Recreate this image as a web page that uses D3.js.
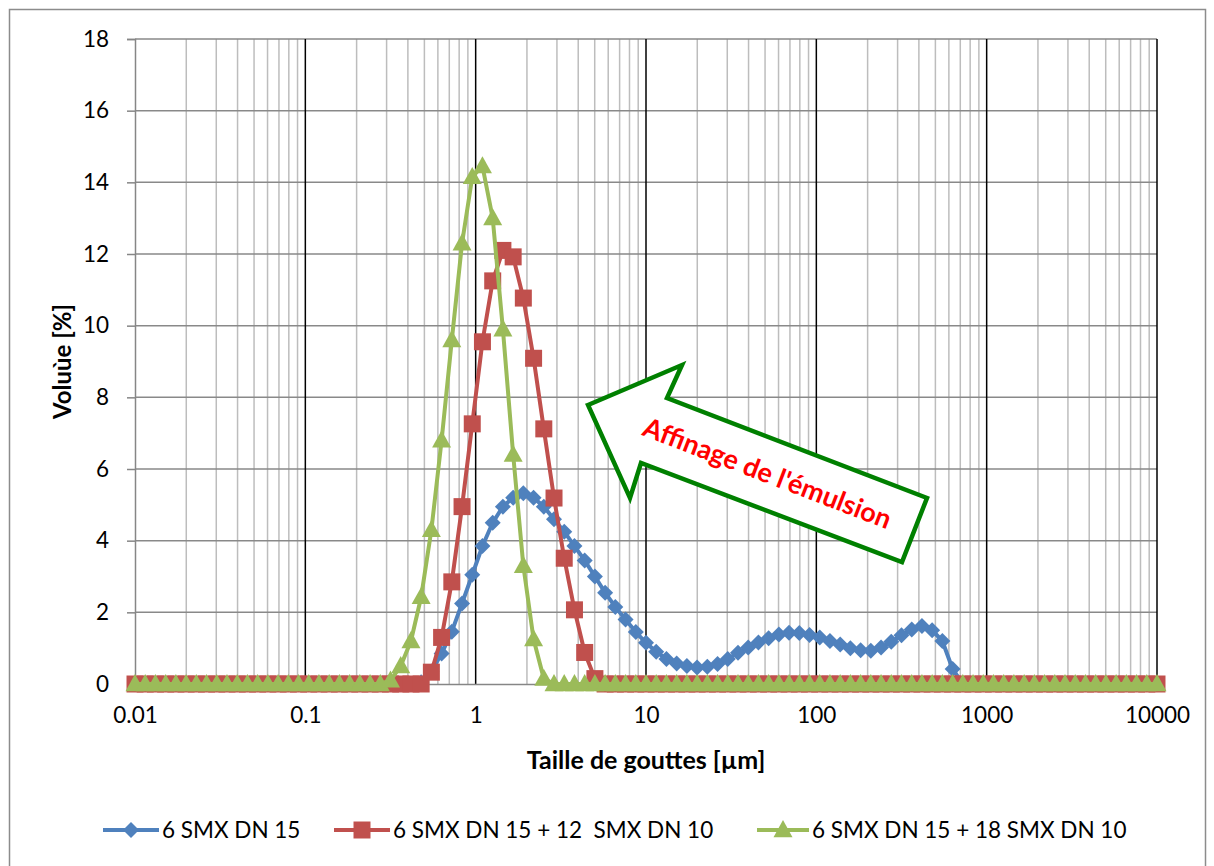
<!DOCTYPE html>
<html><head><meta charset="utf-8">
<script src="https://cdn.jsdelivr.net/npm/d3@7"></script>
<style>body{margin:0;background:#fff;}svg{display:block;font-family:Lato,"Open Sans",sans-serif;}</style>
</head><body><svg id="c" width="1214" height="866"></svg>
<script>
const sizes = [0.01,0.01148,0.01318,0.01514,0.01738,0.01995,0.02291,0.0263,0.0302,0.03467,
0.03981,0.04571,0.05248,0.06026,0.06918,0.07943,0.0912,0.1047,0.1202,0.138,
0.1585,0.182,0.2089,0.2399,0.2754,0.3162,0.3631,0.4169,0.4786,0.5495,
0.631,0.7244,0.8318,0.955,1.096,1.259,1.445,1.66,1.905,2.188,
2.512,2.884,3.311,3.802,4.365,5.012,5.754,6.607,7.586,8.71,
10,11.48,13.18,15.14,17.38,19.95,22.91,26.3,30.2,34.67,
39.81,45.71,52.48,60.26,69.18,79.43,91.2,104.7,120.2,138,
158.5,182,208.9,239.9,275.4,316.2,363.1,416.9,478.6,549.5,
631,724.4,831.8,955,1096,1259,1445,1660,1905,2188,
2512,2884,3311,3802,4365,5012,5754,6607,7586,8710,10000];

const blueValues = [0,0,0,0,0,0,0,0,0,0, 0,0,0,0,0,0,0,0,0,0, 0,0,0,0,0,0,0,0,
0.05,0.35,0.85,1.46,2.25,3.05,3.85,4.5,4.95,5.2,5.32,5.2,
4.95,4.6,4.25,3.85,3.45,3.0,2.55,2.15,1.8,1.45,
1.15,0.9,0.7,0.57,0.5,0.46,0.48,0.56,0.7,0.87,
1.02,1.16,1.28,1.38,1.43,1.42,1.37,1.3,1.2,1.1,
1.0,0.94,0.93,1.02,1.18,1.36,1.52,1.62,1.5,1.2,0.42,
0,0,0,0,0,0,0,0,0,0, 0,0,0,0,0,0,0,0,0,0];

const redValues = [0,0,0,0,0,0,0,0,0,0, 0,0,0,0,0,0,0,0,0,0, 0,0,0,0,0,0,0,0,0,
0.33,1.3,2.85,4.95,7.26,9.55,11.25,12.1,11.92,10.77,9.09,7.12,5.19,3.51,2.07,0.88,0.15,
0,0,0,0,0,0,0,0,0,0, 0,0,0,0,0,0,0,0,0,0, 0,0,0,0,0,0,0,0,0,0,
0,0,0,0,0,0,0,0,0,0, 0,0,0,0,0,0,0,0,0,0, 0,0,0,0,0];

const greenValues = [0,0,0,0,0,0,0,0,0,0, 0,0,0,0,0,0,0,0,0,0, 0,0,0,0,0,
0.1,0.5,1.2,2.43,4.3,6.8,9.6,12.3,14.15,14.45,13.0,9.9,6.4,3.3,1.25,0.15,
0,0,0,0,0,0,0,0,0,0, 0,0,0,0,0,0,0,0,0,0, 0,0,0,0,0,0,0,0,0,0,
0,0,0,0,0,0,0,0,0,0, 0,0,0,0,0,0,0,0,0,0, 0,0,0,0,0,0,0,0,0,0];

const seriesNames = ["6 SMX DN 15", "6 SMX DN 15 + 12  SMX DN 10", "6 SMX DN 15 + 18 SMX DN 10"];
const xTickValues = [0.01, 0.1, 1, 10, 100, 1000, 10000];
const xTickLabels = ["0.01", "0.1", "1", "10", "100", "1000", "10000"];
const yTickValues = [0, 2, 4, 6, 8, 10, 12, 14, 16, 18];
const xTitle = "Taille de gouttes [µm]";
const yTitle = "Voluùe [%]";
const annotation = "Affinage de l'émulsion";

const svg = d3.select("#c");
const L = 135, R = 1157, T = 39, B = 684;
const x = d3.scaleLog().domain([0.01, 10000]).range([L, R]);
const y = d3.scaleLinear().domain([0, 18]).range([B, T]);

// outer border
svg.append("rect").attr("x", 9.5).attr("y", 9.5).attr("width", 1196).attr("height", 870)
  .attr("fill", "#fff").attr("stroke", "#8c8c8c").attr("stroke-width", 1.5);

// minor vertical gridlines
const minor = [];
for (let d = 0; d < 6; d++) for (let k = 2; k <= 9; k++) minor.push(xTickValues[d] * k);
svg.append("g").selectAll("line").data(minor).join("line")
  .attr("x1", d => x(d)).attr("x2", d => x(d)).attr("y1", T).attr("y2", B)
  .attr("stroke", "#bdbdbd").attr("stroke-width", 1.5);
// horizontal gridlines
svg.append("g").selectAll("line").data(yTickValues.slice(1)).join("line")
  .attr("x1", L).attr("x2", R).attr("y1", d => y(d)).attr("y2", d => y(d))
  .attr("stroke", "#898989").attr("stroke-width", 1.5);
// major vertical gridlines
svg.append("g").selectAll("line").data(xTickValues.slice(1)).join("line")
  .attr("x1", d => x(d)).attr("x2", d => x(d)).attr("y1", T).attr("y2", B)
  .attr("stroke", "#000").attr("stroke-width", 1.5);

// y axis
const yAxis = d3.axisLeft(y).tickValues(yTickValues).tickSize(8).tickPadding(18).tickFormat(d3.format("d"));
const gy = svg.append("g").attr("transform", `translate(${L},0)`).call(yAxis);
gy.select(".domain").attr("stroke", "#868686").attr("stroke-width", 1.5);
gy.selectAll(".tick line").attr("stroke", "#868686").attr("stroke-width", 1.5);
gy.selectAll("text").attr("font-size", 22.5).attr("fill", "#000").attr("font-family", "Lato");

// x axis
const xAxis = d3.axisBottom(x).tickValues(xTickValues).tickSize(0).tickPadding(23)
  .tickFormat((d, i) => xTickLabels[i]);
const gx = svg.append("g").attr("transform", `translate(0,${B})`).call(xAxis);
gx.select(".domain").attr("stroke", "#868686").attr("stroke-width", 1.5);
gx.selectAll("text").attr("font-size", 22.5).attr("fill", "#000").attr("font-family", "Lato");

// titles
svg.append("text").attr("x", (L + R) / 2 + 0).attr("y", 769).attr("text-anchor", "middle")
  .attr("font-weight", "bold").attr("font-size", 25).text(xTitle);
svg.append("text").attr("transform", `translate(71,${(T + B) / 2}) rotate(-90)`).attr("text-anchor", "middle")
  .attr("font-weight", "bold").attr("font-size", 24).text(yTitle);

// marker shapes
const shapes = {
  diamond: s => `M0,${-s}L${s},0L0,${s}L${-s},0Z`,
  square: s => `M${-s},${-s}H${s}V${s}H${-s}Z`,
  triangle: s => `M0,${-s * 1.05}L${s},${s * 0.75}L${-s},${s * 0.75}Z`
};
const series = [
  { name: seriesNames[0], values: blueValues, color: "#4F81BD", shape: "diamond", size: 8 },
  { name: seriesNames[1], values: redValues, color: "#C0504D", shape: "square", size: 8.5 },
  { name: seriesNames[2], values: greenValues, color: "#9BBB59", shape: "triangle", size: 9.5 }
];
const line = d3.line().x(d => x(d[0])).y(d => y(d[1]));
series.forEach(s => {
  const pts = sizes.map((v, i) => [v, s.values[i]]);
  const g = svg.append("g");
  g.append("path").attr("d", line(pts)).attr("fill", "none").attr("stroke", s.color)
    .attr("stroke-width", 4).attr("stroke-linejoin", "round");
  g.selectAll("path.m").data(pts).join("path").attr("class", "m")
    .attr("transform", d => `translate(${x(d[0])},${y(d[1])})`)
    .attr("d", shapes[s.shape](s.size)).attr("fill", s.color);
});

// annotation arrow
const arrowPts = [[588, 405], [682, 365], [667, 398], [927, 498], [902, 562], [641, 463], [630, 498]];
svg.append("path").attr("d", "M" + arrowPts.map(p => p.join(",")).join("L") + "Z")
  .attr("fill", "#fff").attr("stroke", "#008000").attr("stroke-width", 4.5).attr("stroke-linejoin", "miter");
svg.append("text").attr("transform", "translate(764,482) rotate(21)").attr("text-anchor", "middle")
  .attr("font-weight", "bold").attr("font-size", 27).attr("fill", "#FF0000").text(annotation);

// legend
const legendItems = [
  { s: series[0], lx: 103, tx: 162 },
  { s: series[1], lx: 334, tx: 393 },
  { s: series[2], lx: 757, tx: 812 }
];
const lg = svg.append("g");
legendItems.forEach(it => {
  const cy = 830;
  lg.append("line").attr("x1", it.lx).attr("x2", it.tx - 3).attr("y1", cy).attr("y2", cy)
    .attr("stroke", it.s.color).attr("stroke-width", 4);
  lg.append("path").attr("transform", `translate(${(it.lx + it.tx - 3) / 2},${cy})`)
    .attr("d", shapes[it.s.shape](it.s.size)).attr("fill", it.s.color);
  lg.append("text").attr("x", it.tx).attr("y", cy + 8).attr("font-size", 22.5)
    .style("white-space", "pre").text(it.s.name);
});
</script></body></html>
